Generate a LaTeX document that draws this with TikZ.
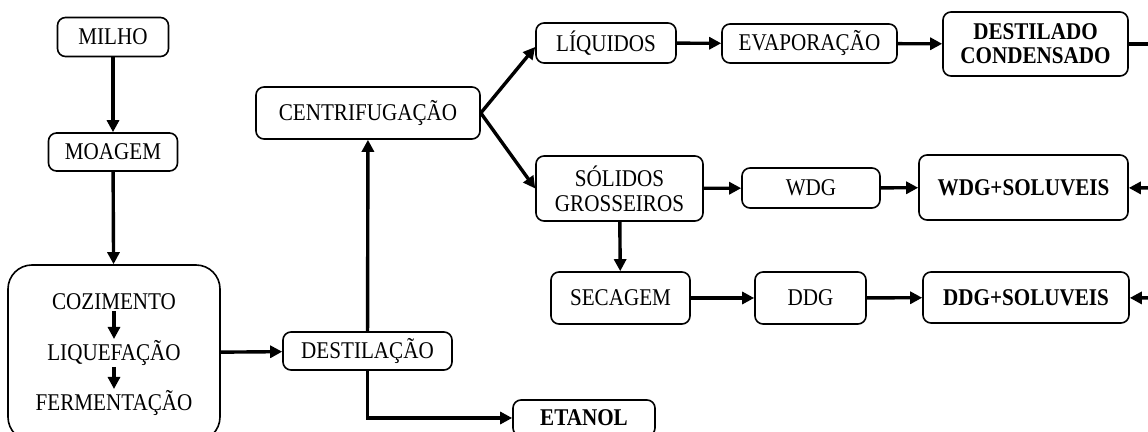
\documentclass[tikz,border=0pt]{standalone}
\usepackage{fontspec}
\setmainfont{Liberation Serif}[FakeStretch=0.88]
\usetikzlibrary{arrows.meta}

\begin{document}
\begin{tikzpicture}[x=0.5pt, y=-0.5pt,
    etapa/.style={draw, rounded corners=4pt, line width=0.8pt, inner sep=2pt, align=center, font=\fontsize{12}{12.5}\selectfont},
    produto/.style={etapa, font=\fontsize{12}{12}\selectfont\bfseries},
    interno/.style={inner sep=0.5pt, font=\fontsize{12}{12.5}\selectfont},
    fluxo/.style={-{Triangle[length=6pt,width=6pt]}, line width=1.7pt},
    linha/.style={line width=1.7pt}
    ]
    \useasboundingbox (0,0) rectangle (1148,432);
    \clip (0,0) rectangle (1148,432);
    % coluna da esquerda
    \node[etapa, minimum width=55.5pt, minimum height=19.5pt] (milho) at (113,37) {MILHO};
    \node[etapa, minimum width=64.5pt, minimum height=19pt] (moagem) at (113,152) {MOAGEM};
    \node[draw, rounded corners=12pt, line width=0.8pt, minimum width=106pt, minimum height=88pt] (proc) at (114,353) {};
    \node[interno] (cozim) at (114,302) {COZIMENTO};
    \node[interno] (liquef) at (114,353) {LIQUEFAÇÃO};
    \node[interno] (ferment) at (114,403) {FERMENTAÇÃO};
    % centro
    \node[etapa, minimum width=84.5pt, minimum height=19pt] (destil) at (367.5,351) {DESTILAÇÃO};
    \node[produto, minimum width=71pt, minimum height=18pt] (etanol) at (584,418) {ETANOL};
    \node[etapa, minimum width=112pt, minimum height=26pt] (centrif) at (368,113) {CENTRIFUGAÇÃO};
    % ramo dos liquidos
    \node[etapa, minimum width=70pt, minimum height=20pt] (liquidos) at (606,43) {LÍQUIDOS};
    \node[etapa, minimum width=87.5pt, minimum height=19.5pt] (evap) at (809.5,43.5) {EVAPORAÇÃO};
    \node[produto, minimum width=92.5pt, minimum height=32pt] (condens) at (1035.5,44) {DESTILADO\\CONDENSADO};
    % ramo dos solidos
    \node[etapa, minimum width=83.5pt, minimum height=32.5pt] (solidos) at (619.5,188.5) {SÓLIDOS\\GROSSEIROS};
    \node[etapa, minimum width=69pt, minimum height=20pt] (wdg) at (811,188) {WDG};
    \node[produto, minimum width=104.5pt, minimum height=32.5pt] (wdgsol) at (1023.5,187.5) {WDG+SOLUVEIS};
    \node[etapa, minimum width=69.5pt, minimum height=26pt] (secagem) at (620.5,298) {SECAGEM};
    \node[etapa, minimum width=55.5pt, minimum height=26pt] (ddg) at (810.5,298) {DDG};
    \node[produto, minimum width=103pt, minimum height=25.5pt] (ddgsol) at (1026,297.5) {DDG+SOLUVEIS};
    % retorno fora da figura
    \coordinate (saida) at (1165,44);
    \coordinate (ret1) at (1165,188);
    \coordinate (ret2) at (1165,298);

    \draw[fluxo] (milho) -- (moagem);
    \draw[fluxo] (moagem) -- (proc);
    \draw[fluxo] (cozim) -- (liquef);
    \draw[fluxo] (liquef) -- (ferment);
    \draw[fluxo] (proc) -- (destil);
    \draw[fluxo] (destil) -- (centrif);
    \draw[fluxo] (destil.south) |- (etanol.west);
    \draw[fluxo] (centrif.east) -- ([yshift=-2pt]liquidos.west);
    \draw[fluxo] (centrif.east) -- (solidos.west);
    \draw[fluxo] (liquidos) -- (evap);
    \draw[fluxo] (evap) -- (condens);
    \draw[linha] (condens) -- (saida);
    \draw[fluxo] (solidos) -- (wdg);
    \draw[fluxo] (wdg) -- (wdgsol);
    \draw[fluxo] (ret1) -- (wdgsol);
    \draw[fluxo] (solidos) -- (secagem);
    \draw[fluxo] (secagem) -- (ddg);
    \draw[fluxo] (ddg) -- (ddgsol);
    \draw[fluxo] (ret2) -- (ddgsol);
\end{tikzpicture}
\end{document}
